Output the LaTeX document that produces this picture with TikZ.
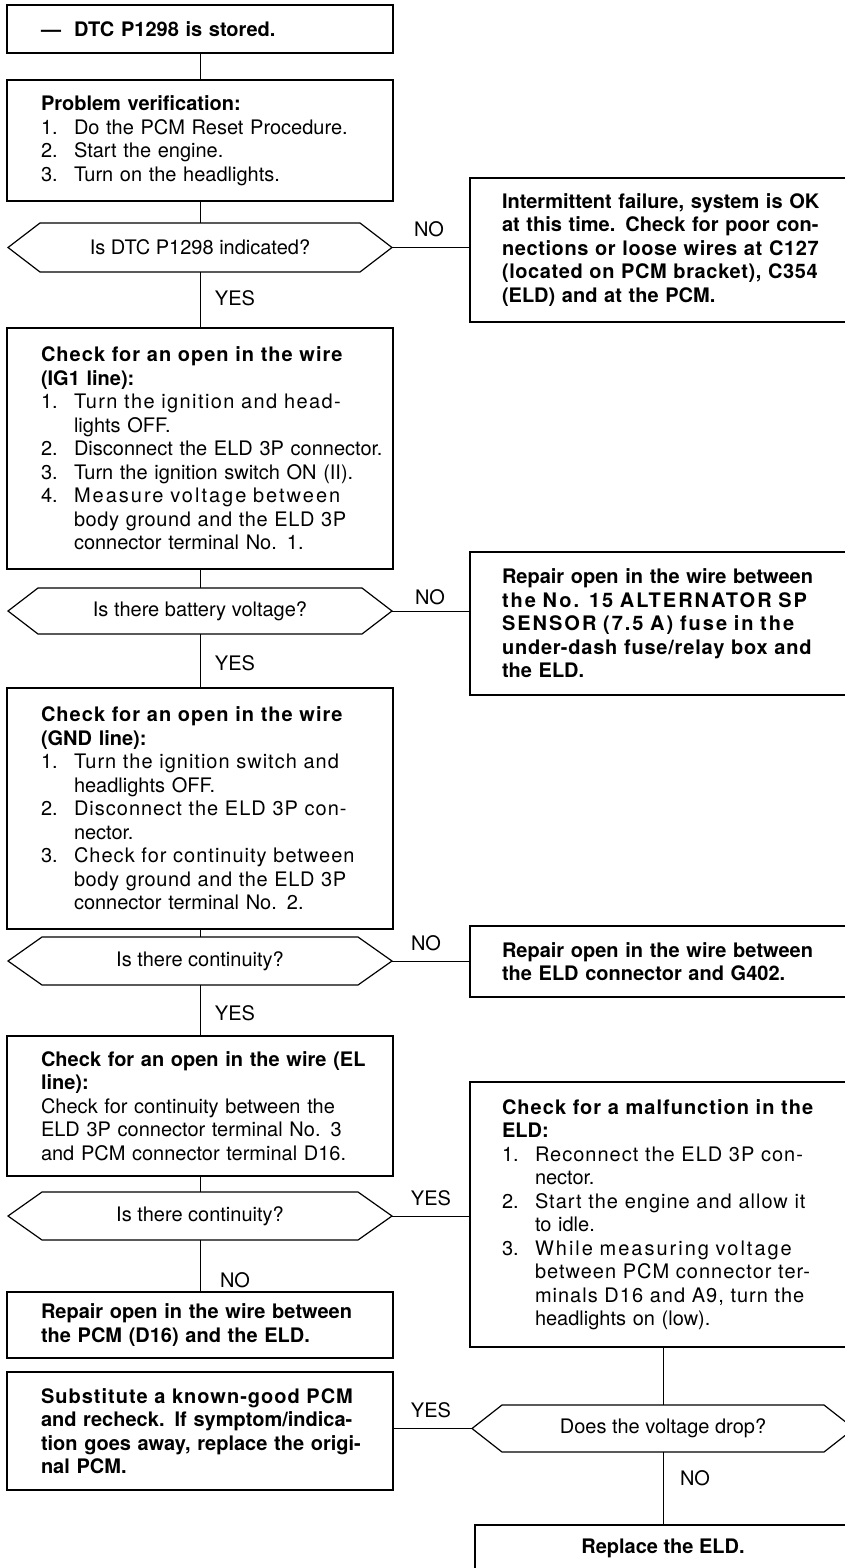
\documentclass[tikz,border=0pt]{standalone}
\usepackage{fontspec}
\setmainfont{TeX Gyre Heros}
\newlength\bw
\newcommand\jl[1]{\makebox[\bw][s]{#1}}
\newcommand\jls[2]{{\addfontfeature{LetterSpace=#1}\makebox[\bw][s]{#2}}}
\newcommand\nbox[1]{\makebox[33pt][l]{#1}}
\newcommand\indt{\hspace*{33pt}}
\newcommand\ml[1]{\mbox{#1}}
\newcommand\ijl[2]{\mbox{\nbox{#1}\makebox[\dimexpr\bw-33pt\relax][s]{#2}}}
\newcommand\ijls[3]{\mbox{\nbox{#1}{\addfontfeature{LetterSpace=#2}\makebox[\dimexpr\bw-33pt\relax][s]{#3}}}}
\newcommand\hexa[2]{\draw[boxline] (#1.west) -- ([xshift=#2pt]#1.north west) -- ([xshift=-#2pt]#1.north east) -- (#1.east) -- ([xshift=-#2pt]#1.south east) -- ([xshift=#2pt]#1.south west) -- cycle;}
\begin{document}
\begin{tikzpicture}[x=1pt,y=-1pt,
  txt/.style={font=\fontsize{20pt}{23.5pt}\selectfont},
  bold/.style={font=\fontsize{20pt}{23.5pt}\selectfont\bfseries},
  boxline/.style={draw=black,line width=1.2pt},
  lbox/.style={txt,boxline,text width=318pt,inner xsep=34pt,inner ysep=0pt,align=left,execute at begin node={\setlength\bw{318pt}}},
  rbox/.style={txt,boxline,text width=320pt,inner xsep=32pt,inner ysep=0pt,align=left,execute at begin node={\setlength\bw{320pt}}},
  dec/.style={txt,inner sep=0pt,outer sep=0pt},
  lab/.style={txt,inner sep=0pt},
  conn/.style={line width=1pt}]
\fill[white] (0,0) rectangle (844,1568);
\useasboundingbox (0,0) rectangle (844,1568);

% left column
\node[lbox,bold,minimum height=48pt] (b1) at (200,29) {\ml{—\hspace{13pt}DTC P1298 is stored.}};
\node[lbox,minimum height=121pt] (b2) at (200,140.5) {\textbf{Problem verification:}\\
\ml{\nbox{1.}Do the PCM Reset Procedure.}\\
\ml{\nbox{2.}Start the engine.}\\
\ml{\nbox{3.}Turn on the headlights.}};
\node[dec,minimum width=384pt,minimum height=49pt] (d1) at (200,247.5) {Is DTC P1298 indicated?};
\hexa{d1}{32}
\node[lbox,minimum height=241pt] (b3) at (200,448.5) {{\bfseries\jls{5}{Check for an open in the wire}}\\
\textbf{(IG1 line):}\\
\ijls{1.}{7}{Turn the ignition and head-}\\
\ml{\indt lights OFF.}\\
\ml{\nbox{2.}Disconnect the ELD 3P connector.}\\
\ml{\nbox{3.}Turn the ignition switch ON (II).}\\
\ijls{4.}{10}{Measure voltage between}\\
\ijls{}{3}{body ground and the ELD 3P}\\
\ml{\indt connector terminal No. 1.}};
\node[dec,minimum width=384pt,minimum height=46pt] (d2) at (200,611) {Is there battery voltage?};
\hexa{d2}{30}
\node[lbox,minimum height=241pt] (b4) at (200,808.5) {{\bfseries\jls{5}{Check for an open in the wire}}\\
\textbf{(GND line):}\\
\ijls{1.}{5}{Turn the ignition switch and}\\
\ml{\indt headlights OFF.}\\
\ijls{2.}{5}{Disconnect the ELD 3P con-}\\
\ml{\indt nector.}\\
\ijls{3.}{5}{Check for continuity between}\\
\ijls{}{3}{body ground and the ELD 3P}\\
\ml{\indt connector terminal No. 2.}};
\node[dec,minimum width=384pt,minimum height=48pt] (d3) at (200,961) {Is there continuity?};
\hexa{d3}{34}
\node[lbox,minimum height=140pt] (b5) at (200,1106) {{\bfseries\jl{Check for an open in the wire (EL}}\\
\textbf{line):}\\
\jl{Check for continuity between the}\\
\jl{ELD 3P connector terminal No. 3}\\
\ml{and PCM connector terminal D16.}};
\node[dec,minimum width=384pt,minimum height=48pt] (d4) at (200,1216) {Is there continuity?};
\hexa{d4}{34}
\node[lbox,bold,minimum height=66pt] (b6) at (200,1325) {\jl{Repair open in the wire between}\\
\ml{the PCM (D16) and the ELD.}};
\node[lbox,bold,minimum height=118pt] (b7) at (200,1431) {\jls{5}{Substitute a known-good PCM}\\
\jl{and recheck. If symptom/indica-}\\
\jl{tion goes away, replace the origi-}\\
\ml{nal PCM.}};

% right column
\node[rbox,bold,minimum height=144pt] (r1) at (662,250) {\jl{Intermittent failure, system is OK}\\
\jl{at this time. Check for poor con-}\\
\jls{3}{nections or loose wires at C127}\\
\jls{3}{(located on PCM bracket), C354}\\
\ml{(ELD) and at the PCM.}};
\node[rbox,bold,minimum height=143pt] (r2) at (662,623.5) {\jl{Repair open in the wire between}\\
\jls{10}{the No. 15 ALTERNATOR SP}\\
\jls{10}{SENSOR (7.5 A) fuse in the}\\
\jls{4}{under-dash fuse/relay box and}\\
\ml{the ELD.}};
\node[rbox,bold,minimum height=71pt] (r3) at (662,961.5) {\jl{Repair open in the wire between}\\
\ml{the ELD connector and G402.}};
\node[rbox,minimum height=265pt] (r4) at (662,1214.5) {{\bfseries\jls{5}{Check for a malfunction in the}}\\
\textbf{ELD:}\\
\ijls{1.}{5}{Reconnect the ELD 3P con-}\\
\ml{\indt nector.}\\
\ijls{2.}{5}{Start the engine and allow it}\\
\ml{\indt to idle.}\\
\ijls{3.}{10}{While measuring voltage}\\
\ijls{}{5}{between PCM connector ter-}\\
\ijls{}{5}{minals D16 and A9, turn the}\\
\ml{\indt headlights on (low).}};
\node[dec,minimum width=382pt,minimum height=47pt] (d5) at (663,1428.5) {Does the voltage drop?};
\hexa{d5}{30}
\node[bold,boxline,minimum width=376pt,minimum height=46pt,inner sep=0pt] (r5) at (663,1548) {Replace the ELD.};

% labels
\node[lab] (n1) at (429,229) {NO};
\node[lab] (y1) at (235,298) {YES};
\node[lab] (n2) at (430,597) {NO};
\node[lab] (y2) at (235,663) {YES};
\node[lab] (n3) at (426,943) {NO};
\node[lab] (y3) at (235,1013) {YES};
\node[lab] (y4) at (431,1198) {YES};
\node[lab] (n4) at (235,1280) {NO};
\node[lab] (y5) at (431,1410) {YES};
\node[lab] (n5) at (695,1478) {NO};

% connectors
\draw[conn] (b1.south) -- (b2.north);
\draw[conn] (b2.south) -- (d1.north);
\draw[conn] (d1.south) -- (b3.north);
\draw[conn] (b3.south) -- (d2.north);
\draw[conn] (d2.south) -- (b4.north);
\draw[conn] (b4.south) -- (d3.north);
\draw[conn] (d3.south) -- (b5.north);
\draw[conn] (b5.south) -- (d4.north);
\draw[conn] (d4.south) -- (b6.north);
\draw[conn] (d1.east) -- (d1.east -| r1.west);
\draw[conn] (d2.east) -- (d2.east -| r2.west);
\draw[conn] (d3.east) -- (d3.east -| r3.west);
\draw[conn] (d4.east) -- (d4.east -| r4.west);
\draw[conn] (r4.south -| d5.north) -- (d5.north);
\draw[conn] (d5.west) -- (d5.west -| b7.east);
\draw[conn] (d5.south) -- (r5.north -| d5.south);
\end{tikzpicture}
\end{document}
